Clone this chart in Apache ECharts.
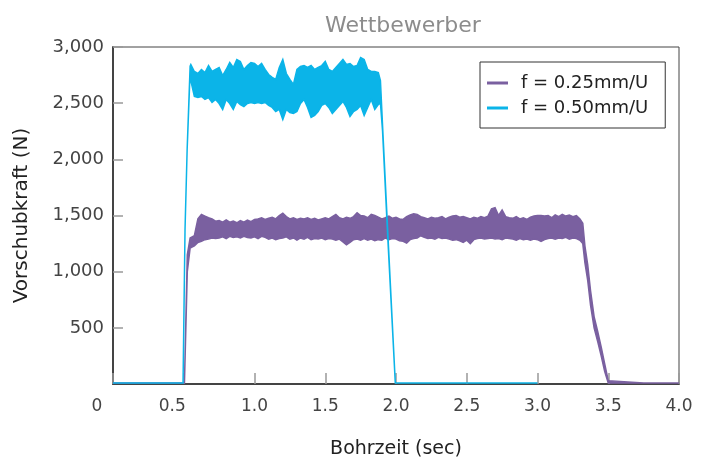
<!DOCTYPE html>
<html>
<head>
<meta charset="utf-8">
<title>Wettbewerber</title>
<script src="https://cdn.jsdelivr.net/npm/echarts@6/dist/echarts.min.js"></script>
<style>
  html, body { margin: 0; padding: 0; background: #fff; }
  #chart { width: 705px; height: 459px; }
</style>
</head>
<body>
<div id="chart"></div>
<script>
// Vorschubkraft: upper and lower edge of the noisy band (N) per time (sec)
const purpleT = [0, 0.25, 0.505, 0.525, 0.545,
  0.575, 0.6, 0.625, 0.65, 0.675, 0.7, 0.725, 0.75, 0.775, 0.8, 0.825, 0.85, 0.875, 0.9, 0.925, 0.95, 0.975,
  1.0, 1.025, 1.05, 1.075, 1.1, 1.125, 1.15, 1.175, 1.2, 1.225, 1.25, 1.275, 1.3, 1.325, 1.35, 1.375, 1.4, 1.425, 1.45, 1.475,
  1.5, 1.525, 1.55, 1.575, 1.6, 1.625, 1.65, 1.675, 1.7, 1.725, 1.75, 1.775, 1.8, 1.825, 1.85, 1.875, 1.9, 1.925, 1.95, 1.975,
  2.0, 2.025, 2.05, 2.075, 2.1, 2.125, 2.15, 2.175, 2.2, 2.225, 2.25, 2.275, 2.3, 2.325, 2.35, 2.375, 2.4, 2.425, 2.45, 2.475,
  2.5, 2.525, 2.55, 2.575, 2.6, 2.625, 2.65, 2.675, 2.7, 2.725, 2.75, 2.775, 2.8, 2.825, 2.85, 2.875, 2.9, 2.925, 2.95, 2.975,
  3.0, 3.025, 3.05, 3.075, 3.1, 3.125, 3.15, 3.175, 3.2, 3.225, 3.25, 3.275, 3.3, 3.32,
  3.335, 3.355, 3.375, 3.4, 3.425, 3.45, 3.475, 3.5, 3.75, 4.0]
const purpleHi = [10, 10, 10, 1150, 1300,
  1320, 1470, 1510, 1495, 1480, 1470, 1450, 1455, 1440, 1460, 1440, 1450, 1435, 1455, 1440, 1460, 1445,
  1465, 1470, 1480, 1465, 1475, 1485, 1470, 1500, 1520, 1490, 1470, 1480, 1465, 1475, 1470, 1480, 1465, 1475, 1460, 1470,
  1480, 1470, 1490, 1510, 1480, 1470, 1485, 1475, 1490, 1525, 1500, 1495, 1480, 1510, 1500, 1485, 1470, 1480, 1495, 1475,
  1485, 1470, 1465, 1490, 1505, 1515, 1510, 1490, 1480, 1470, 1485, 1475, 1480, 1490, 1470, 1485, 1495, 1500, 1485, 1490,
  1480, 1470, 1485, 1475, 1490, 1480, 1495, 1560, 1570, 1500, 1550, 1490, 1480, 1475, 1490, 1470, 1480, 1465, 1485, 1495,
  1500, 1500, 1495, 1500, 1480, 1505, 1490, 1510, 1495, 1505, 1490, 1500, 1470, 1430,
  1230, 1060, 830, 600, 470, 330, 180, 30, 10, 10]
const purpleLo = [10, 10, 10, 1000, 1210,
  1230, 1260, 1270, 1285, 1290, 1300, 1295, 1300, 1310, 1295, 1315, 1305, 1310, 1300, 1315, 1305, 1300,
  1310, 1295, 1315, 1305, 1290, 1300, 1285, 1295, 1300, 1310, 1290, 1300, 1280, 1300, 1290, 1305, 1285, 1295, 1290, 1300,
  1285, 1295, 1290, 1280, 1290, 1265, 1240, 1260, 1285, 1290, 1280, 1295, 1280, 1290, 1275, 1285, 1280, 1300, 1285, 1295,
  1290, 1275, 1270, 1255, 1285, 1295, 1300, 1320, 1305, 1295, 1300, 1290, 1305, 1295, 1300, 1290, 1280, 1285, 1275, 1260,
  1280, 1250, 1285, 1295, 1300, 1290, 1295, 1300, 1290, 1295, 1285, 1300, 1295, 1290, 1280, 1295, 1285, 1290, 1280, 1290,
  1285, 1270, 1285, 1295, 1300, 1290, 1300, 1295, 1305, 1290, 1300, 1295, 1280, 1250,
  1080, 920, 700, 500, 380, 250, 110, 10, 10, 10]

const blueT = [0, 0.25, 0.495, 0.509, 0.524, 0.545,
  0.55, 0.575, 0.6, 0.625, 0.65, 0.675, 0.7, 0.725, 0.75, 0.775, 0.8, 0.825, 0.85, 0.875, 0.9, 0.925, 0.95, 0.975,
  1.0, 1.025, 1.05, 1.075, 1.1, 1.125, 1.15, 1.175, 1.2, 1.225, 1.25, 1.275, 1.3, 1.325, 1.35, 1.375, 1.4, 1.425, 1.45, 1.475,
  1.5, 1.525, 1.55, 1.575, 1.6, 1.625, 1.65, 1.675, 1.7, 1.725, 1.75, 1.775, 1.8, 1.825, 1.85, 1.875,
  1.89, 1.905, 1.94, 1.995, 2.5, 3.0]
const blueHi = [10, 10, 10, 1376, 2088, 2830,
  2844, 2782, 2764, 2800, 2773, 2835, 2782, 2800, 2818, 2746, 2800, 2862, 2818, 2889, 2871, 2800, 2835, 2862,
  2853, 2826, 2853, 2800, 2755, 2729, 2711, 2818, 2889, 2764, 2711, 2666, 2800, 2826, 2835, 2818, 2835, 2800, 2818, 2835,
  2871, 2800, 2782, 2818, 2853, 2889, 2844, 2853, 2826, 2835, 2907, 2889, 2800, 2782, 2782, 2773,
  2700, 2300, 1400, 10, 10, 10]
const blueLo = [10, 10, 10, 1376, 2088, 2780,
  2700, 2560, 2550, 2560, 2533, 2550, 2506, 2533, 2497, 2444, 2533, 2497, 2444, 2515, 2488, 2470, 2497, 2506,
  2497, 2506, 2497, 2506, 2480, 2462, 2426, 2444, 2355, 2444, 2417, 2408, 2426, 2497, 2533, 2462, 2373, 2390, 2426, 2480,
  2497, 2462, 2408, 2444, 2480, 2515, 2462, 2382, 2426, 2444, 2480, 2390, 2462, 2533, 2444, 2488,
  2500, 2250, 1350, 10, 10, 10]

const seriesNames = ['f = 0.25mm/U', 'f = 0.50mm/U']
const seriesColors = ['#7a60a0', '#0bb4e8']

const xTicks = [0, 0.5, 1.0, 1.5, 2.0, 2.5, 3.0, 3.5, 4.0]
const yTicks = [500, 1000, 1500, 2000, 2500, 3000]

const font = 'DejaVu Sans'

// the noisy signal is drawn as one filled outline: upper edge forward, lower edge back
function bandSeries(name, color, t, hi, lo) {
  const outline = t.map((x, i) => [x, hi[i]])
  for (let i = t.length - 1; i >= 0; i--) outline.push([t[i], lo[i]])
  return {
    name: name,
    type: 'custom',
    data: outline,
    itemStyle: { color: color },
    renderItem: function (params, api) {
      if (params.dataIndex !== 0) return
      return {
        type: 'polygon',
        shape: { points: outline.map(p => api.coord(p)) },
        style: { fill: color, stroke: color, lineWidth: 1.5, lineJoin: 'miter' }
      }
    }
  }
}

const chart = echarts.init(document.getElementById('chart'))

chart.setOption({
  animation: false,
  backgroundColor: '#fff',
  title: {
    text: 'Wettbewerber',
    left: 320,
    top: 10,
    textStyle: { fontFamily: font, fontSize: 22, fontWeight: 'normal', color: '#8c8c8c' }
  },
  legend: {
    data: seriesNames,
    orient: 'vertical',
    left: 480,
    top: 62,
    padding: [11, 17, 10, 7],
    borderColor: '#333',
    borderWidth: 1,
    icon: 'rect',
    itemWidth: 21,
    itemHeight: 3,
    itemGap: 5,
    textStyle: { fontFamily: font, fontSize: 18, color: '#222', lineHeight: 20, padding: [0, 0, 0, 8] }
  },
  grid: {
    left: 113,
    right: 26,
    top: 47,
    bottom: 75,
    outerBoundsMode: 'none',
    containLabel: false,
    show: true,
    borderColor: '#444',
    borderWidth: 1
  },
  xAxis: {
    type: 'value',
    min: xTicks[0],
    max: xTicks[xTicks.length - 1],
    interval: 0.5,
    name: 'Bohrzeit (sec)',
    nameLocation: 'middle',
    nameGap: 56,
    nameTextStyle: { fontFamily: font, fontSize: 19, color: '#222' },
    axisLine: { lineStyle: { color: '#444', width: 2 } },
    axisTick: { inside: true, length: 11, lineStyle: { color: '#999', width: 1.5 } },
    splitLine: { show: false },
    axisLabel: {
      margin: 14,
      fontFamily: font,
      fontSize: 17,
      color: '#444',
      formatter: function (v) {
        // the first two labels sit a little left of their ticks in the original
        if (v === 0) return '{a|0}'
        if (v === 0.5) return '{b|0.5}'
        return v.toFixed(1)
      },
      rich: {
        a: { fontFamily: font, fontSize: 17, color: '#444', padding: [0, 32, 0, 0] },
        b: { fontFamily: font, fontSize: 17, color: '#444', padding: [0, 23, 0, 0] }
      }
    }
  },
  yAxis: {
    type: 'value',
    min: 0,
    max: yTicks[yTicks.length - 1],
    interval: 500,
    name: 'Vorschubkraft (N)',
    nameLocation: 'middle',
    nameGap: 81,
    nameTextStyle: { fontFamily: font, fontSize: 20, color: '#222' },
    axisLine: { show: true, lineStyle: { color: '#444', width: 2 } },
    axisTick: { show: true, inside: true, length: 10, lineStyle: { color: '#999', width: 1.5 } },
    splitLine: { show: false },
    axisLabel: {
      showMinLabel: false,
      margin: 9,
      fontFamily: font,
      fontSize: 18,
      color: '#444',
      formatter: function (v) { return v.toLocaleString('en-US') }
    }
  },
  series: [
    bandSeries(seriesNames[0], seriesColors[0], purpleT, purpleHi, purpleLo),
    bandSeries(seriesNames[1], seriesColors[1], blueT, blueHi, blueLo)
  ]
})
</script>
</body>
</html>
